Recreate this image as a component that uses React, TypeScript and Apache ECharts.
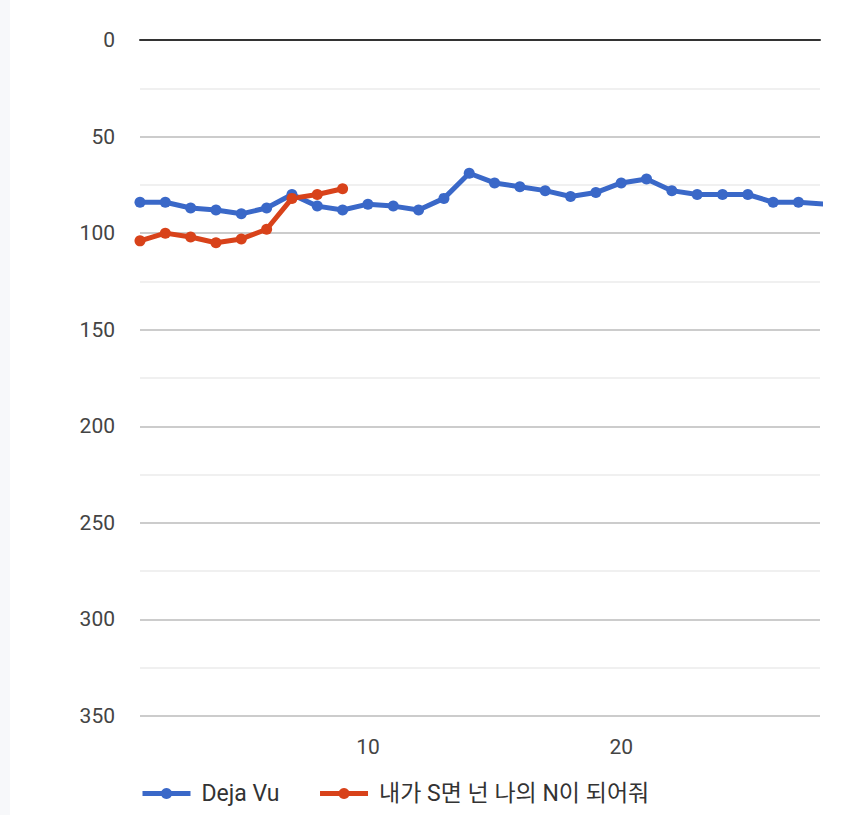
import React, { useEffect, useRef } from "react";
import * as echarts from "echarts";

const seriesNames = ["Deja Vu", "내가 S면 넌 나의 N이 되어줘"];
const dejaVu = [84, 84, 87, 88, 90, 87, 80, 86, 88, 85, 86, 88, 82, 69, 74, 76, 78, 81, 79, 74, 72, 78, 80, 80, 80, 84, 84, 85];
const sn = [104, 100, 102, 105, 103, 98, 82, 80, 77];
const xLabels = [10, 20];
const colors = ["#3a68c8", "#d8421a"];

export default function App() {
  const ref = useRef<HTMLDivElement>(null);
  useEffect(() => {
    document.body.style.margin = "0";
    const chart = echarts.init(ref.current!, null, { renderer: "svg" });
    const font = "Roboto, 'Noto Sans CJK KR', sans-serif";
    chart.setOption({
      animation: false,
      backgroundColor: "#ffffff",
      color: colors,
      grid: { left: 140, right: 30, top: 40, bottom: 99 },
      graphic: [
        { type: "rect", left: 0, top: 0, shape: { width: 10, height: 815 }, style: { fill: "#f7f8fa" }, silent: true },
      ],
      legend: {
        left: 140,
        top: 782,
        padding: 0,
        itemWidth: 48,
        itemHeight: 14,
        itemGap: 38,
        lineStyle: { width: 5 },
        textStyle: { fontFamily: font, fontSize: 23, color: "#333", padding: [0, 0, 0, 6] },
        data: seriesNames,
      },
      xAxis: [
        {
          type: "value",
          min: 1,
          max: 27.85,
          axisLine: { show: false },
          axisTick: { show: false },
          splitLine: { show: false },
          axisLabel: {
            customValues: xLabels,
            fontFamily: font,
            fontSize: 21,
            color: "#444",
            margin: 20,
          },
        },
        {
          type: "value",
          position: "top",
          min: 1,
          max: 27.85,
          axisLine: { show: true, onZero: false, lineStyle: { color: "#333", width: 2 } },
          axisTick: { show: false },
          axisLabel: { show: false },
          splitLine: { show: false },
        },
      ],
      yAxis: {
        type: "value",
        inverse: true,
        min: 0,
        max: 350,
        interval: 50,
        axisLine: { show: false },
        axisTick: { show: false },
        axisLabel: { fontFamily: font, fontSize: 21, color: "#444", margin: 25 },
        splitLine: { lineStyle: { color: "#cccccc", width: 2 } },
        minorTick: { show: false, splitNumber: 2 },
        minorSplitLine: { show: true, lineStyle: { color: "#ebebeb", width: 1.5 } },
      },
      series: [
        {
          name: seriesNames[0],
          type: "line",
          data: dejaVu.map((v, i) => [i + 1, v]),
          symbol: "circle",
          symbolSize: 11,
          lineStyle: { width: 5 },
          clip: true,
        },
        {
          name: seriesNames[1],
          type: "line",
          data: sn.map((v, i) => [i + 1, v]),
          symbol: "circle",
          symbolSize: 11,
          lineStyle: { width: 5 },
          clip: true,
        },
      ],
    });
    return () => chart.dispose();
  }, []);
  return <div ref={ref} style={{ width: 850, height: 815 }} />;
}
